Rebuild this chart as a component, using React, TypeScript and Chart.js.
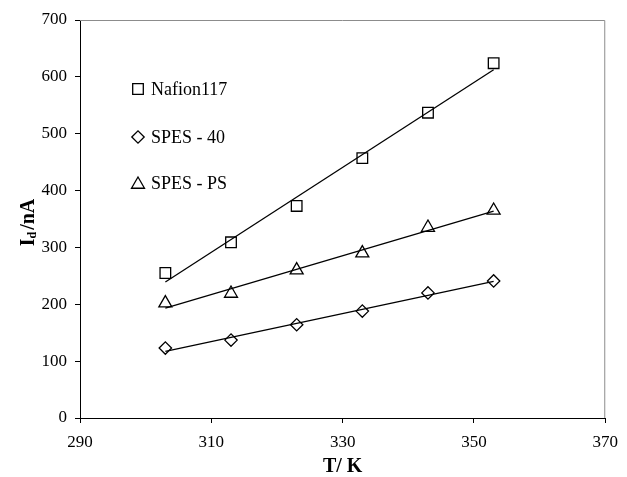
import React, { useEffect, useRef } from "react";
import { Chart, registerables } from "chart.js";
import { drawPoint } from "chart.js/helpers";

Chart.register(...registerables);

const temperatures = [303, 313, 323, 333, 343, 353];
const nafion117 = [255, 309, 373, 457, 537, 624];
const spes40 = [123, 137, 164, 188, 220, 241];
const spesPS = [202, 219, 260, 290, 335, 365];
const seriesNames = ["Nafion117", "SPES - 40", "SPES - PS"];
const xTicks = [290, 310, 330, 350, 370];
const yTicks = [0, 100, 200, 300, 400, 500, 600, 700];

const FONT = '"Liberation Serif", "Times New Roman", serif';

function fitLine(xs: number[], ys: number[]) {
  const n = xs.length;
  const mx = xs.reduce((a, b) => a + b, 0) / n;
  const my = ys.reduce((a, b) => a + b, 0) / n;
  let sxy = 0;
  let sxx = 0;
  for (let i = 0; i < n; i++) {
    sxy += (xs[i] - mx) * (ys[i] - my);
    sxx += (xs[i] - mx) * (xs[i] - mx);
  }
  const k = sxy / sxx;
  const b = my - k * mx;
  const x0 = xs[0];
  const x1 = xs[n - 1];
  return [
    { x: x0, y: k * x0 + b },
    { x: x1, y: k * x1 + b },
  ];
}

const pts = (ys: number[]) => temperatures.map((t, i) => ({ x: t, y: ys[i] }));

const markerStyles = [
  { style: "rect", radius: 7.5 },
  { style: "rectRot", radius: 6.2 },
  { style: "triangle", radius: 7.5 },
];

const decorPlugin = {
  id: "decor",
  beforeDatasetsDraw(chart: any) {
    const { ctx, chartArea } = chart;
    ctx.save();
    ctx.strokeStyle = "#8c8c8c";
    ctx.lineWidth = 1;
    ctx.beginPath();
    ctx.moveTo(chartArea.left, chartArea.top + 0.5);
    ctx.lineTo(chartArea.right - 0.5, chartArea.top + 0.5);
    ctx.lineTo(chartArea.right - 0.5, chartArea.bottom);
    ctx.stroke();
    ctx.restore();
  },
  afterDraw(chart: any) {
    const { ctx, chartArea } = chart;
    ctx.save();
    // legend
    const legendYs = [89, 137, 183];
    ctx.font = `18px ${FONT}`;
    ctx.fillStyle = "#000";
    ctx.textBaseline = "middle";
    ctx.textAlign = "left";
    seriesNames.forEach((name, i) => {
      const m = markerStyles[i];
      ctx.strokeStyle = "#000";
      ctx.fillStyle = "rgba(0,0,0,0)";
      ctx.lineWidth = 1.3;
      drawPoint(ctx, { pointStyle: m.style, radius: m.radius, rotation: 0, borderWidth: 1.3 } as any, 138, legendYs[i] + (m.style === "triangle" ? 1.5 : 0));
      ctx.fillStyle = "#000";
      ctx.fillText(name, 151, legendYs[i] + 1);
    });

    // x title
    ctx.font = `bold 20px ${FONT}`;
    ctx.textAlign = "center";
    ctx.textBaseline = "middle";
    ctx.fillText("T/ K", (chartArea.left + chartArea.right) / 2, 467);

    // y title with subscript
    ctx.translate(27, (chartArea.top + chartArea.bottom) / 2 + 2);
    ctx.rotate(-Math.PI / 2);
    ctx.textAlign = "left";
    ctx.textBaseline = "alphabetic";
    const big = `bold 20px ${FONT}`;
    const small = `bold 12px ${FONT}`;
    ctx.font = big;
    const wI = ctx.measureText("I").width;
    const wRest = ctx.measureText(" /nA").width;
    ctx.font = small;
    const wd = ctx.measureText("d").width;
    const total = wI + wd + wRest;
    let x = -total / 2;
    const base = 7;
    ctx.font = big;
    ctx.fillText("I", x, base);
    x += wI;
    ctx.font = small;
    ctx.fillText("d", x, base + 2);
    x += wd;
    ctx.font = big;
    ctx.fillText("/nA", x + 2, base);
    ctx.restore();
  },
};

export default function App() {
  const ref = useRef<HTMLCanvasElement | null>(null);

  useEffect(() => {
    if (!ref.current) return;
    const series = [nafion117, spes40, spesPS];
    const datasets: any[] = [];
    series.forEach((ys) => {
      datasets.push({
        data: fitLine(temperatures, ys),
        showLine: true,
        borderColor: "#000",
        borderWidth: 1.3,
        pointRadius: 0,
        fill: false,
      });
    });
    series.forEach((ys, i) => {
      datasets.push({
        label: seriesNames[i],
        data: pts(ys),
        showLine: false,
        pointStyle: markerStyles[i].style,
        pointRadius: markerStyles[i].radius,
        borderColor: "#000",
        borderWidth: 1.3,
        backgroundColor: "rgba(0,0,0,0)",
      });
    });

    const chart = new Chart(ref.current, {
      type: "scatter",
      data: { datasets },
      options: {
        animation: false,
        responsive: false,
        layout: { padding: { top: 20, right: 15, left: 0, bottom: 0 } },
        plugins: { legend: { display: false }, tooltip: { enabled: false } },
        scales: {
          x: {
            type: "linear",
            min: 290,
            max: 370,
            afterBuildTicks: (s: any) => {
              s.ticks = xTicks.map((v) => ({ value: v }));
            },
            afterFit: (s: any) => {
              s.height = 59;
            },
            ticks: {
              color: "#000",
              font: { family: FONT, size: 17 },
              padding: 9,
              maxRotation: 0,
            },
            grid: { drawOnChartArea: false, drawTicks: true, tickLength: 5, color: "#000" },
            border: { color: "#000", width: 1 },
          },
          y: {
            type: "linear",
            min: 0,
            max: 700,
            afterBuildTicks: (s: any) => {
              s.ticks = yTicks.map((v) => ({ value: v }));
            },
            afterFit: (s: any) => {
              s.width = 80;
            },
            ticks: {
              color: "#000",
              font: { family: FONT, size: 17 },
              padding: 8,
            },
            grid: { drawOnChartArea: false, drawTicks: true, tickLength: 5, color: "#000" },
            border: { color: "#000", width: 1 },
          },
        },
      },
      plugins: [decorPlugin],
    });
    return () => chart.destroy();
  }, []);

  return (
    <div style={{ position: "fixed", left: 0, top: 0, width: 627, height: 477, background: "#fff" }}>
      <canvas ref={ref} width={627} height={477} />
    </div>
  );
}
